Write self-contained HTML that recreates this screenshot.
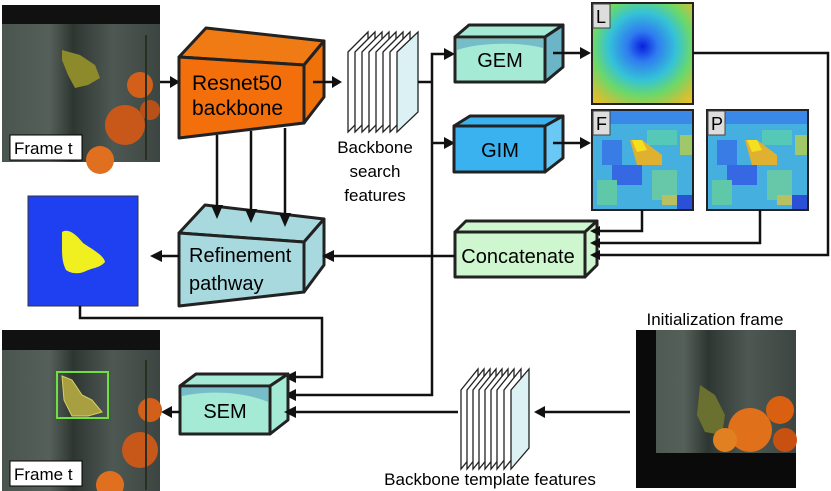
<!DOCTYPE html>
<html><head><meta charset="utf-8"><style>
html,body{margin:0;padding:0;background:#fff;}
svg{display:block;font-family:"Liberation Sans",sans-serif;}
</style></head><body>
<svg width="831" height="491" viewBox="0 0 831 491" xmlns="http://www.w3.org/2000/svg">
<defs>
<linearGradient id="bg1" x1="0" x2="1" y1="0" y2="0">
<stop offset="0" stop-color="#4a5550"/><stop offset="0.3" stop-color="#56605a"/><stop offset="0.45" stop-color="#2e3632"/><stop offset="0.7" stop-color="#4e5853"/><stop offset="1" stop-color="#3c4541"/>
</linearGradient>
<radialGradient id="lmap" cx="0.5" cy="0.43" r="0.75">
<stop offset="0" stop-color="#0a1fe0"/><stop offset="0.2" stop-color="#2f7cf0"/><stop offset="0.45" stop-color="#35c3d6"/><stop offset="0.65" stop-color="#6bd86a"/><stop offset="0.85" stop-color="#c6c23a"/><stop offset="1" stop-color="#f0c020"/>
</radialGradient>
<g id="heat">
<rect x="0" y="0" width="101" height="100" fill="#45b0e0"/>
<rect x="0" y="0" width="101" height="14" fill="#3a88e8"/>
<rect x="10" y="30" width="20" height="25" fill="#3a7ce6"/>
<rect x="20" y="55" width="30" height="20" fill="#3568e2"/>
<rect x="55" y="20" width="30" height="15" fill="#55c8b8"/>
<rect x="5" y="70" width="20" height="25" fill="#5ec8a8"/>
<rect x="60" y="60" width="25" height="30" fill="#66c8a8"/>
<rect x="70" y="85" width="15" height="10" fill="#b8c060"/>
<rect x="85" y="85" width="15" height="14" fill="#2a50d8"/>
<rect x="88" y="25" width="13" height="20" fill="#a0c868"/>
<polygon points="38,30 50,30 70,45 70,55 45,55" fill="#e0b030"/>
<polygon points="40,30 50,30 55,40 45,42" fill="#f5e020"/>
</g>
</defs>

<!-- Top frame image -->
<rect x="2" y="5" width="158" height="157" fill="url(#bg1)"/>
<rect x="2" y="5" width="158" height="19" fill="#111"/>
<polygon points="62,50 80,55 95,65 100,78 88,85 75,88 68,75 62,60" fill="#8d8a2c"/>
<circle cx="140" cy="85" r="13" fill="#d2601a"/>
<circle cx="125" cy="125" r="20" fill="#c8581a"/>
<circle cx="150" cy="110" r="10" fill="#b8501a"/>
<circle cx="100" cy="160" r="14" fill="#e07020"/>
<rect x="145" y="35" width="2" height="125" fill="#2a3020"/>
<rect x="10" y="135" width="72" height="25" fill="#fff" stroke="#000" stroke-width="1"/>
<text x="14" y="154" font-size="17">Frame t</text>

<!-- arrow frame->resnet -->
<line x1="160" y1="82" x2="172" y2="82" stroke="#111" stroke-width="2.5"/>
<polygon points="170,76 180,82 170,88" fill="#111"/>

<!-- Resnet -->
<g stroke="#222" stroke-width="3" stroke-linejoin="round">
<polygon points="179,57 206,28 324,41 304,65" fill="#f07a14"/>
<polygon points="304,65 324,41 324,97 304,123" fill="#f0700a"/>
<polygon points="179,57 304,65 304,123 179,138" fill="#f36f0c"/>
</g>
<text x="192" y="90" font-size="21">Resnet50</text>
<text x="192" y="115" font-size="21">backbone</text>
<line x1="313" y1="82" x2="333" y2="82" stroke="#111" stroke-width="2.5"/>
<polygon points="332,76 342,82 332,88" fill="#111"/>

<!-- search feature stack -->
<g stroke="#222" stroke-width="1.3" fill="#fff">
<polygon points="348,52 368,32 368,112 348,132"/>
<polygon points="355,52 375,32 375,112 355,132"/>
<polygon points="362,52 382,32 382,112 362,132"/>
<polygon points="369,52 389,32 389,112 369,132"/>
<polygon points="376,52 396,32 396,112 376,132"/>
<polygon points="383,52 403,32 403,112 383,132"/>
<polygon points="390,52 410,32 410,112 390,132"/>
<polygon points="397,52 418,32 418,112 397,132" fill="#dcf1f4"/>
</g>
<text x="375" y="153" font-size="17" text-anchor="middle">Backbone</text>
<text x="375" y="177" font-size="17" text-anchor="middle">search</text>
<text x="375" y="201" font-size="17" text-anchor="middle">features</text>

<!-- Refinement -->
<g stroke="#222" stroke-width="3" stroke-linejoin="round">
<polygon points="179,233 205,205 324,219 304,242" fill="#a8d9df"/>
<polygon points="304,242 324,219 324,265 304,292" fill="#a8d9df"/>
<polygon points="179,233 304,242 304,292 179,306" fill="#a8d9df"/>
</g>
<text x="189" y="262" font-size="20">Refinement</text>
<text x="189" y="290" font-size="20">pathway</text>

<!-- vertical arrows resnet->refinement -->
<g stroke="#111" stroke-width="2.5">
<line x1="217" y1="135" x2="217" y2="207"/>
<line x1="251" y1="131" x2="251" y2="211"/>
<line x1="285" y1="128" x2="285" y2="215"/>
</g>
<g fill="#111">
<polygon points="211,205 223,205 217,219"/>
<polygon points="245,209 257,209 251,223"/>
<polygon points="279,213 291,213 285,227"/>
</g>

<line x1="179" y1="256" x2="160" y2="256" stroke="#111" stroke-width="2.5"/>
<polygon points="162,250 150,256 162,262" fill="#111"/>

<!-- mask -->
<rect x="28" y="196" width="110" height="110" fill="#1e40f0" stroke="#333" stroke-width="1"/>
<path d="M62,232 C68,228 76,234 83,243 C90,248 104,255 105,262 C100,268 92,268 86,271 C78,275 70,273 66,270 C62,262 62,255 62,245 Z" fill="#f0f020"/>

<!-- mask to SEM line -->
<polyline points="80,306 80,318 322,318 322,377 295,377" fill="none" stroke="#111" stroke-width="2.5"/>
<polygon points="284,377 296,371 296,383" fill="#111"/>

<!-- trunk from search features -->
<polyline points="418,82 432,82" fill="none" stroke="#111" stroke-width="2.5"/>
<polyline points="446,54 432,54 432,395 293,395" fill="none" stroke="#111" stroke-width="2.5"/>
<polygon points="284,395 296,389 296,401" fill="#111"/>
<line x1="432" y1="143" x2="446" y2="143" stroke="#111" stroke-width="2.5"/>
<polygon points="444,48 455,54 444,60" fill="#111"/>
<polygon points="444,137 455,143 444,149" fill="#111"/>

<!-- GEM -->
<g stroke="#222" stroke-width="3" stroke-linejoin="round">
<polygon points="455,37 469,25 563,25 545,37" fill="#a4ead4"/>
<polygon points="545,37 563,25 563,67 545,82" fill="#6bb5c6"/>
<rect x="455" y="37" width="90" height="45" fill="#a4ead4"/>
</g>
<path d="M457,39 L543,39 L543,48 C520,42 480,42 457,50 Z" fill="#6bb0c6" opacity="0.8"/>
<text x="500" y="67" font-size="20" text-anchor="middle">GEM</text>
<line x1="553" y1="53" x2="582" y2="53" stroke="#111" stroke-width="2.5"/>
<polygon points="580,47 591,53 580,59" fill="#111"/>

<!-- GIM -->
<g stroke="#222" stroke-width="3" stroke-linejoin="round">
<polygon points="454,126 470,116 563,116 545,126" fill="#3ab2f0"/>
<polygon points="545,126 563,116 563,158 545,172" fill="#6ac8f4"/>
<rect x="454" y="126" width="91" height="46" fill="#3ab2f0"/>
</g>
<text x="500" y="157" font-size="20" text-anchor="middle">GIM</text>
<line x1="553" y1="143" x2="582" y2="143" stroke="#111" stroke-width="2.5"/>
<polygon points="580,137 591,143 580,149" fill="#111"/>

<!-- L map -->
<rect x="592" y="3" width="101" height="101" fill="url(#lmap)" stroke="#222" stroke-width="2"/>
<rect x="593" y="4" width="17" height="24" fill="#ddd" stroke="#444" stroke-width="1"/>
<text x="596" y="23" font-size="18">L</text>
<!-- F, P maps -->
<g transform="translate(592,110)"><use href="#heat"/></g>
<rect x="592" y="110" width="101" height="100" fill="none" stroke="#222" stroke-width="2"/>
<rect x="593" y="111" width="17" height="24" fill="#ddd" stroke="#444" stroke-width="1"/>
<text x="596" y="130" font-size="18">F</text>
<g transform="translate(707,110)"><use href="#heat"/></g>
<rect x="707" y="110" width="101" height="100" fill="none" stroke="#222" stroke-width="2"/>
<rect x="708" y="111" width="17" height="24" fill="#ddd" stroke="#444" stroke-width="1"/>
<text x="711" y="130" font-size="18">P</text>

<!-- lines to concatenate -->
<g fill="none" stroke="#111" stroke-width="2.5">
<polyline points="693,53 828,53 828,255 600,255"/>
<polyline points="642,210 642,231 600,231"/>
<polyline points="760,210 760,243 600,243"/>
</g>

<!-- Concatenate -->
<g stroke="#222" stroke-width="3" stroke-linejoin="round">
<polygon points="455,232 466,221 597,221 585,232" fill="#cff7cf"/>
<polygon points="585,232 597,221 597,265 585,277" fill="#cff7cf"/>
<rect x="455" y="232" width="130" height="45" fill="#cff7cf"/>
</g>
<g fill="#111">
<polygon points="600,226 590,231 600,236"/>
<polygon points="600,238 590,243 600,248"/>
<polygon points="600,250 590,255 600,260"/>
</g>
<text x="518" y="263" font-size="20" text-anchor="middle">Concatenate</text>
<line x1="455" y1="256" x2="332" y2="256" stroke="#111" stroke-width="2.5"/>
<polygon points="334,250 322,256 334,262" fill="#111"/>

<!-- SEM -->
<g stroke="#222" stroke-width="3" stroke-linejoin="round">
<polygon points="180,386 196,374 288,374 270,386" fill="#a4ead4"/>
<polygon points="270,386 288,374 288,420 270,434" fill="#a4ead4"/>
<rect x="180" y="386" width="90" height="48" fill="#a4ead4"/>
</g>
<path d="M182,388 L268,388 L268,402 C245,392 210,390 182,396 Z" fill="#6bb0c6" opacity="0.8"/>
<text x="225" y="418" font-size="20" text-anchor="middle">SEM</text>
<line x1="180" y1="412" x2="170" y2="412" stroke="#111" stroke-width="2.5"/>
<polygon points="172,406 161,412 172,418" fill="#111"/>
<line x1="458" y1="412" x2="293" y2="412" stroke="#111" stroke-width="2.5"/>
<polygon points="296,406 284,412 296,418" fill="#111"/>

<!-- template stack -->
<g stroke="#222" stroke-width="1.3" fill="#fff">
<polygon points="461,390 478,369 478,448 461,469"/>
<polygon points="467,390 484,369 484,448 467,469"/>
<polygon points="473,390 490,369 490,448 473,469"/>
<polygon points="479,390 496,369 496,448 479,469"/>
<polygon points="485,390 502,369 502,448 485,469"/>
<polygon points="491,390 508,369 508,448 491,469"/>
<polygon points="497,390 514,369 514,448 497,469"/>
<polygon points="504,390 521,369 521,448 504,469"/>
<polygon points="511,390 529,369 529,448 511,469" fill="#dcf1f4"/>
</g>
<text x="490" y="485" font-size="17" text-anchor="middle">Backbone template features</text>
<line x1="630" y1="412" x2="543" y2="412" stroke="#111" stroke-width="2.5"/>
<polygon points="545,406 534,412 545,418" fill="#111"/>

<!-- bottom frame -->
<rect x="2" y="330" width="158" height="161" fill="url(#bg1)"/>
<rect x="2" y="330" width="158" height="20" fill="#111"/>
<circle cx="150" cy="410" r="12" fill="#d2601a"/>
<circle cx="140" cy="450" r="18" fill="#c8581a"/>
<circle cx="110" cy="485" r="14" fill="#e07020"/>
<rect x="145" y="360" width="2" height="130" fill="#2a3020"/>
<rect x="57" y="372" width="51" height="46" fill="none" stroke="#6ee040" stroke-width="2"/>
<polygon points="62,376 72,380 82,395 92,400 102,412 88,416 72,416 64,400" fill="#a8a040" stroke="#d8d060" stroke-width="1"/>
<rect x="10" y="461" width="72" height="25" fill="#fff" stroke="#000" stroke-width="1"/>
<text x="14" y="480" font-size="17">Frame t</text>

<!-- init frame -->
<text x="715" y="325" font-size="17" text-anchor="middle">Initialization frame</text>
<rect x="636" y="330" width="160" height="158" fill="url(#bg1)"/>
<rect x="636" y="330" width="20" height="158" fill="#0a0a0a"/>
<rect x="636" y="453" width="160" height="35" fill="#0a0a0a"/>
<polygon points="700,385 715,395 725,415 722,435 705,432 697,415" fill="#6a7030"/>
<circle cx="750" cy="430" r="22" fill="#e0701a"/>
<circle cx="780" cy="410" r="14" fill="#d86010"/>
<circle cx="725" cy="440" r="12" fill="#e08020"/>
<circle cx="785" cy="440" r="12" fill="#c85010"/>
</svg>
</body></html>
